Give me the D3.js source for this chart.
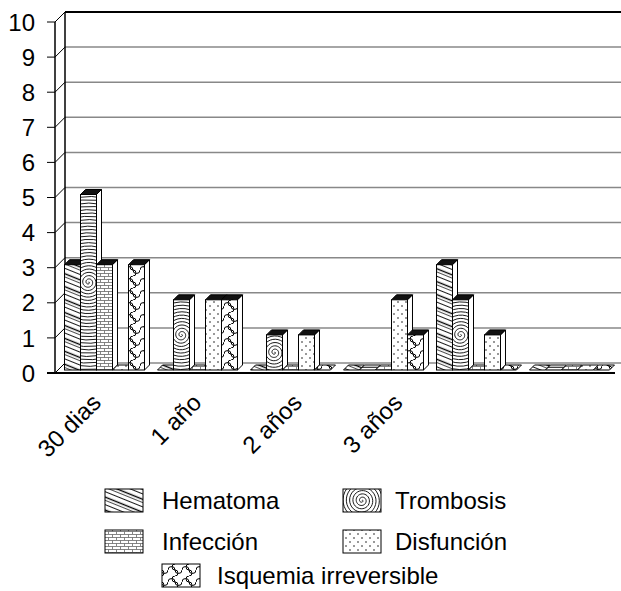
<!DOCTYPE html>
<html>
<head>
<meta charset="utf-8">
<script src="https://cdn.jsdelivr.net/npm/d3@7"></script>
<style>
  body { margin: 0; background: #fff; }
  text { font-family: "Liberation Sans", Arial, sans-serif; fill: #000; }
</style>
</head>
<body>
<svg id="chart" width="621" height="591"></svg>
<script>
// data
const categories = ['c1', 'c2', 'c3', 'c4', 'c5', 'c6'];
const tickLabels = ['30 dias', '1 año', '2 años', '3 años', '', ''];
const series = ['Hematoma', 'Trombosis', 'Infección', 'Disfunción', 'Isquemia irreversible'];
const hematoma   = [3, 0, 0, 0, 3, 0];
const trombosis  = [5, 2, 1, 0, 2, 0];
const infeccion  = [3, 0, 0, 0, 0, 0];
const disfuncion = [0, 2, 1, 2, 1, 0];
const isquemia   = [3, 2, 0, 1, 0, 0];
const yTicks = [0, 1, 2, 3, 4, 5, 6, 7, 8, 9, 10];

const values = [hematoma, trombosis, infeccion, disfuncion, isquemia];
const patternIds = ['p-hem', 'p-tro', 'p-inf', 'p-dis', 'p-isq'];

const svg = d3.select('#chart');
const DEPTH = 10;      // wall depth (px right / px up)
const D1 = 3, D2 = 8;  // bar front / back depth

const x0 = d3.scaleBand().domain(categories).range([55, 613]).paddingInner(0.14).paddingOuter(0.07);
const x1 = d3.scaleBand().domain(series).range([0, x0.bandwidth()]);
const y = d3.scaleLinear().domain([0, 10]).range([373, 22]);

// ---- patterns
const defs = svg.append('defs');

const pHem = defs.append('pattern').attr('id', 'p-hem').attr('patternUnits', 'userSpaceOnUse')
  .attr('width', 20).attr('height', 12).attr('patternTransform', 'rotate(22)');
pHem.append('rect').attr('width', 20).attr('height', 12).attr('fill', '#fff');
[[1.5, 1.4], [4.5, 0.7], [8.5, 0.9]].forEach(([py, sw]) => {
  pHem.append('line').attr('x1', 0).attr('x2', 20).attr('y1', py).attr('y2', py)
    .attr('stroke', '#000').attr('stroke-width', sw);
});

const pTro = defs.append('pattern').attr('id', 'p-tro').attr('patternUnits', 'userSpaceOnUse')
  .attr('width', 6).attr('height', 3.3);
pTro.append('rect').attr('width', 6).attr('height', 3.3).attr('fill', '#fff');
pTro.append('line').attr('x1', 0).attr('x2', 6).attr('y1', 1).attr('y2', 1)
  .attr('stroke', '#000').attr('stroke-width', 0.9);

const pInf = defs.append('pattern').attr('id', 'p-inf').attr('patternUnits', 'userSpaceOnUse')
  .attr('width', 8).attr('height', 6);
pInf.append('rect').attr('width', 8).attr('height', 6).attr('fill', '#fff');
pInf.append('path').attr('d', 'M0,0.5H8M0,3.5H8M0.5,0.5V3.5M4.5,3.5V6.5')
  .attr('stroke', '#666').attr('stroke-width', 0.8).attr('fill', 'none');

const pDis = defs.append('pattern').attr('id', 'p-dis').attr('patternUnits', 'userSpaceOnUse')
  .attr('width', 8).attr('height', 8);
pDis.append('rect').attr('width', 8).attr('height', 8).attr('fill', '#fff');
pDis.append('circle').attr('cx', 2).attr('cy', 2).attr('r', 0.75).attr('fill', '#000');
pDis.append('circle').attr('cx', 6).attr('cy', 6).attr('r', 0.75).attr('fill', '#000');

// puzzle-like cells: one horizontal and one vertical S-wave per tile
const pIsq = defs.append('pattern').attr('id', 'p-isq').attr('patternUnits', 'userSpaceOnUse')
  .attr('width', 14).attr('height', 12);
pIsq.append('rect').attr('width', 14).attr('height', 12).attr('fill', '#fff');
pIsq.append('path')
  .attr('d', 'M0,6 A3.5,3.5 0 0,1 7,6 A3.5,3.5 0 0,0 14,6 M7,0 A3,3 0 0,0 7,6 A3,3 0 0,1 7,12')
  .attr('stroke', '#000').attr('stroke-width', 1).attr('fill', 'none');

let clipCount = 0;
const spiral = (g, cx, cy, rMax, x, yy, w, h) => {
  const id = 'clip' + (clipCount++);
  defs.append('clipPath').attr('id', id).append('rect')
    .attr('x', x).attr('y', yy).attr('width', w).attr('height', h);
  const gap = 3.3;
  const turns = rMax / gap;
  const pts = d3.range(0, turns * 2 * Math.PI, 0.2);
  const line = d3.lineRadial().angle(t => t).radius(t => gap * t / (2 * Math.PI));
  g.append('g').attr('clip-path', `url(#${id})`)
    .append('path').attr('d', line(pts))
    .attr('transform', `translate(${cx},${cy})`)
    .attr('fill', 'none').attr('stroke', '#000').attr('stroke-width', 0.9);
};

// ---- walls
const walls = svg.append('g');
// back wall gridlines
walls.selectAll('line.grid').data(yTicks).join('line')
  .attr('x1', 55 + DEPTH).attr('x2', 625)
  .attr('y1', d => y(d) - DEPTH).attr('y2', d => y(d) - DEPTH)
  .attr('stroke', d => d === 10 ? '#000' : '#888')
  .attr('stroke-width', d => d === 10 ? 2 : 1.5);
// side wall diagonals
walls.selectAll('line.diag').data(yTicks).join('line')
  .attr('x1', 55).attr('x2', 55 + DEPTH)
  .attr('y1', d => y(d)).attr('y2', d => y(d) - DEPTH)
  .attr('stroke', '#000').attr('stroke-width', 1);
// back wall left edge
walls.append('line').attr('x1', 55 + DEPTH).attr('x2', 55 + DEPTH)
  .attr('y1', y(10) - DEPTH).attr('y2', y(0) - DEPTH).attr('stroke', '#000').attr('stroke-width', 1.5);
// front axis
walls.append('line').attr('x1', 55).attr('x2', 55)
  .attr('y1', y(10)).attr('y2', y(0)).attr('stroke', '#000').attr('stroke-width', 1.5);
// ticks and labels
walls.selectAll('line.tick').data(yTicks).join('line')
  .attr('x1', 47).attr('x2', 55).attr('y1', d => y(d)).attr('y2', d => y(d))
  .attr('stroke', '#000').attr('stroke-width', 1);
walls.selectAll('text.ylab').data(yTicks).join('text')
  .attr('x', 35).attr('y', d => y(d)).attr('dy', '0.36em')
  .attr('text-anchor', 'end').attr('font-size', 24).text(d => d);
// floor front edge
walls.append('line').attr('x1', 47).attr('x2', 615).attr('y1', y(0)).attr('y2', y(0))
  .attr('stroke', '#000').attr('stroke-width', 2);

// ---- bars
const bars = svg.append('g');
categories.forEach((cat, i) => {
  series.forEach((s, j) => {
    const v = values[j][i];
    const xs = x0(cat) + x1(s);
    const w = x1.bandwidth();
    const g = bars.append('g');
    const fill = `url(#${patternIds[j]})`;
    if (v === 0) {
      g.append('polygon')
        .attr('points', [[xs + D1, y(0) - D1], [xs + w + D1, y(0) - D1], [xs + w + D2, y(0) - D2], [xs + D2, y(0) - D2]].join(' '))
        .attr('fill', fill).attr('stroke', '#000').attr('stroke-width', 1);
      return;
    }
    const yt = y(v);
    g.append('polygon')
      .attr('points', [[xs + w + D1, yt - D1], [xs + w + D2, yt - D2], [xs + w + D2, y(0) - D2], [xs + w + D1, y(0) - D1]].join(' '))
      .attr('fill', '#fff').attr('stroke', '#000').attr('stroke-width', 1);
    g.append('polygon')
      .attr('points', [[xs + D1, yt - D1], [xs + w + D1, yt - D1], [xs + w + D2, yt - D2], [xs + D2, yt - D2]].join(' '))
      .attr('fill', '#111').attr('stroke', '#000').attr('stroke-width', 1);
    g.append('rect').attr('x', xs + D1).attr('y', yt - D1).attr('width', w).attr('height', y(0) - yt)
      .attr('fill', j === 1 ? '#fff' : fill);
    if (j === 1) {
      spiral(g, xs + D1 + w / 2, (yt + y(0)) / 2 - D1, (y(0) - yt) / 2 + w, xs + D1, yt - D1, w, y(0) - yt);
    }
    g.append('rect').attr('x', xs + D1).attr('y', yt - D1).attr('width', w).attr('height', y(0) - yt)
      .attr('fill', 'none').attr('stroke', '#000').attr('stroke-width', 1);
  });
});

// ---- category labels (the picture spreads them a little wider than the groups)
svg.append('g').selectAll('text').data(categories).join('text')
  .attr('transform', (d, i) => `translate(${x0(d) + x0.bandwidth() / 2 + 1 + i * 7.5},404) rotate(-45)`)
  .attr('text-anchor', 'end').attr('font-size', 24)
  .text((d, i) => tickLabels[i]);

// ---- legend: [swatch x, swatch y, text x]
const legendPos = [[105, 489, 162], [343, 489, 395], [105, 530, 162], [343, 530, 395], [162, 564, 217]];
const SW = 38, SH = 23;
const legend = svg.append('g');
series.forEach((s, j) => {
  const [lx, ly, tx] = legendPos[j];
  const g = legend.append('g');
  g.append('rect').attr('x', lx).attr('y', ly).attr('width', SW).attr('height', SH)
    .attr('fill', j === 1 ? '#fff' : `url(#${patternIds[j]})`);
  if (j === 1) spiral(g, lx + SW / 2, ly + SH / 2, SW / 2 + 6, lx, ly, SW, SH);
  g.append('rect').attr('x', lx).attr('y', ly).attr('width', SW).attr('height', SH)
    .attr('fill', 'none').attr('stroke', '#000').attr('stroke-width', 1);
  g.append('text').attr('x', tx).attr('y', ly + SH / 2).attr('dy', '0.36em')
    .attr('font-size', 24).text(s);
});
</script>
</body>
</html>
